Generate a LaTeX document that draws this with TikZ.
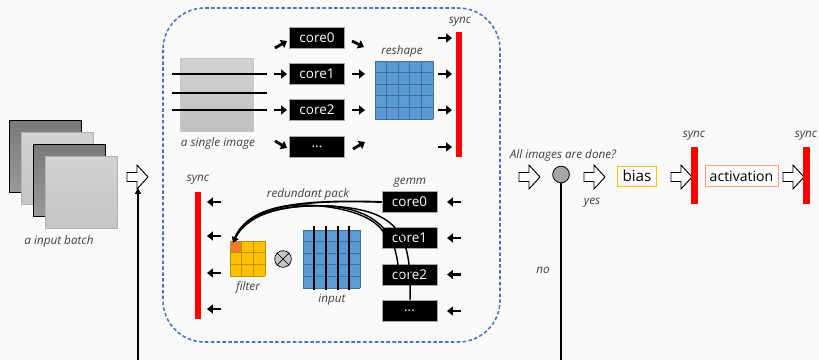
\documentclass[tikz,border=0pt]{standalone}
\usepackage{fontspec}
\setmainfont{Open Sans}
\usetikzlibrary{arrows.meta}
\definecolor{bg}{HTML}{FAFAFA}
\definecolor{dashblue}{HTML}{4472C4}
\definecolor{cellblue}{HTML}{5B9BD5}
\definecolor{cellline}{HTML}{41719C}
\definecolor{fyellow}{HTML}{FFC000}
\definecolor{fyline}{HTML}{BF9000}
\definecolor{forange}{HTML}{ED7D31}
\definecolor{syncred}{HTML}{FF0000}
\definecolor{labelgray}{HTML}{404040}
\definecolor{actorange}{HTML}{F4A070}
\newcommand\hollowarr[2]{%
  \draw[fill=white,line width=0.8pt,line join=miter]
    (#1,#2-4.5) -- ++(10,0) -- ++(0,-7.5) -- ++(11,12) -- ++(-11,12) -- ++(0,-7.5) -- ++(-10,0) -- cycle;}
\begin{document}
\begin{tikzpicture}[x=0.03cm,y=-0.03cm,
  core/.style={fill=black,draw=gray!70,line width=0.4pt,text=white,minimum width=1.65cm,minimum height=0.63cm,inner sep=0pt,font=\fontsize{11.5}{12}\selectfont},
  lbl/.style={text=labelgray,font=\itshape\fontsize{10}{11}\selectfont,inner sep=0pt},
  sarr/.style={line width=2.4pt,-{Triangle[length=5pt,width=7.5pt]}},
  syncbar/.style={fill=syncred,draw=none},
  thinline/.style={line width=1.2pt},
]
\useasboundingbox (0,0) rectangle (819,360);
\fill[bg] (0,0) rectangle (819,360);

% ---------- input batch ----------
\shade[top color=gray!95!black,bottom color=gray!80,draw=black,line width=0.6pt] (9,120) rectangle (81,192);
\shade[top color=gray!35,bottom color=gray!45,draw=gray!60,line width=0.6pt] (21,132) rectangle (93,204);
\shade[top color=gray!95!black,bottom color=gray!80,draw=black,line width=0.6pt] (33,144) rectangle (105,216);
\shade[top color=gray!35,bottom color=gray!45,draw=gray!60,line width=0.6pt] (45,156) rectangle (117,228);
\node[lbl] (batchlbl) at (59,241) {a input batch};

\hollowarr{127}{177}
\coordinate (loopbot) at (138,360);
\coordinate (looptop) at (138,188);
\draw[line width=1.6pt,-{Triangle[length=5pt,width=5pt]}] (loopbot) -- (looptop);

% ---------- dashed container ----------
\draw[dashblue,dash pattern=on 3pt off 2pt,line width=1.3pt,rounded corners=1.25cm] (163,8) rectangle (500,342);

% ---------- top: single image ----------
\shade[top color=gray!35,bottom color=gray!50,draw=gray!45,line width=0.5pt] (180,58) rectangle (253,131);
\draw[thinline] (172,74) -- (267,74);
\draw[thinline] (172,93) -- (267,93);
\draw[thinline] (172,110) -- (267,110);
\node[lbl] (imglbl) at (218,143) {a single image};

\node[core] (tc0) at (317,37.5) {core0};
\node[core] (tc1) at (317,73.5) {core1};
\node[core] (tc2) at (317,109.5) {core2};
\node[core] (tc3) at (317,146.5) {...};

\draw[sarr] (275,48) -- (287,41);
\draw[sarr] (274,74) -- (287,74);
\draw[sarr] (274,110) -- (287,110);
\draw[sarr] (275,141) -- (287,148);
\draw[sarr] (352,41) -- (364,47);
\draw[sarr] (352,74) -- (365,74);
\draw[sarr] (352,110) -- (365,110);
\draw[sarr] (353,149) -- (365,142);

% reshape grid
\fill[cellblue] (375,61) rectangle (433,119);
\foreach \i in {0,...,5}{
  \draw[cellline,line width=0.8pt] (375+\i*11.6,61) -- (375+\i*11.6,119);
  \draw[cellline,line width=0.8pt] (375,61+\i*11.6) -- (433,61+\i*11.6);
}
\node[lbl] (reshlbl) at (402,51) {reshape};

\foreach \y in {38,74,110,147}{\draw[sarr] (438,\y) -- (452,\y);}
\fill[syncbar] (456,32) rectangle (462,157);
\node[lbl] (sync1) at (460,22) {sync};

% ---------- bottom ----------
\node[lbl] (sync2) at (198,180) {sync};
\fill[syncbar] (195,192) rectangle (201,319);
\foreach \y in {202,236,273,309}{\draw[sarr] (221,\y) -- (207,\y);}

% filter
\fill[fyellow] (230,241) rectangle (265,276);
\fill[forange] (230,241) rectangle (241.7,252.7);
\foreach \i in {0,...,3}{
  \draw[fyline,line width=0.7pt] (230+\i*11.67,241) -- (230+\i*11.67,276);
  \draw[fyline,line width=0.7pt] (230,241+\i*11.67) -- (265,241+\i*11.67);
}
\node[lbl] (filtlbl) at (248,287) {filter};

% otimes
\node[circle,draw=black,fill=gray!45,line width=0.6pt,minimum size=0.5cm,inner sep=0pt] (otim) at (283,259) {};
\draw[line width=0.6pt] (otim.north west) -- (otim.south east) (otim.north east) -- (otim.south west);

% input grid
\fill[cellblue] (303,230) rectangle (360,288);
\foreach \i in {0,...,5}{
  \draw[cellline,line width=0.8pt] (303+\i*11.4,230) -- (303+\i*11.4,288);
  \draw[cellline,line width=0.8pt] (303,230+\i*11.6) -- (360,230+\i*11.6);
}
\foreach \x in {314,326,338,349}{\draw[line width=1.2pt] (\x,226) -- (\x,290);}
\node[lbl] (inlbl) at (332,300) {input};

% gemm cores
\node[lbl] (gemmlbl) at (410,183) {gemm};
\node[core] (gc0) at (409.5,202) {core0};
\node[core] (gc1) at (409.5,238) {core1};
\node[core] (gc2) at (409.5,274.5) {core2};
\node[core] (gc3) at (409.5,311) {...};
\foreach \y in {202,238,274.5,311}{\draw[sarr] (461,\y) -- (447,\y);}
\node[lbl] (redlbl) at (308,194) {redundant pack};

% redundant pack curves
\coordinate (ftip) at (233,243);
\draw[line width=1.2pt] (384,233) .. controls (372,212) and (330,205) .. (300,205) .. controls (262,206) and (240,222) .. (234,240);
\draw[line width=1.2pt] (399,285) .. controls (399,245) and (390,212) .. (330,206) .. controls (280,204) and (245,215) .. (234,240);
\draw[line width=1.2pt] (410,300) .. controls (412,235) and (400,210) .. (330,206) .. controls (285,204) and (248,212) .. (234,240);
\draw[line width=1.6pt,-{Triangle[length=5pt,width=6pt]}] (gc0.west) .. controls (290,199) and (248,208) .. (ftip);

% ---------- right side ----------
\hollowarr{519}{177}
\node[lbl] (donelbl) at (563,155) {All images are done?};
\node[circle,draw=black,fill=gray!70,line width=0.7pt,minimum size=0.5cm,inner sep=0pt] (dec) at (561,174.5) {};
\coordinate (noend) at (561,360);
\draw[line width=1.6pt] (dec.south) -- (noend);
\node[lbl] (nolbl) at (543,270) {no};
\hollowarr{584}{177}
\node[lbl] (yeslbl) at (592,203) {yes};
\node[draw=fyellow,fill=white,line width=0.8pt,minimum width=1.15cm,minimum height=0.6cm,inner sep=0pt,font=\fontsize{13}{14}\selectfont] (bias) at (637,176) {bias};
\hollowarr{671}{177}
\fill[syncbar] (691,147) rectangle (698,204);
\node[lbl] (sync3) at (694,136) {sync};
\node[draw=actorange,fill=white,line width=0.8pt,minimum width=2.19cm,minimum height=0.63cm,inner sep=0pt,font=\fontsize{12}{13}\selectfont] (act) at (741.5,176) {activation};
\hollowarr{783}{177}
\fill[syncbar] (803,147) rectangle (810,204);
\node[lbl] (sync4) at (806,136) {sync};
\end{tikzpicture}
\end{document}
